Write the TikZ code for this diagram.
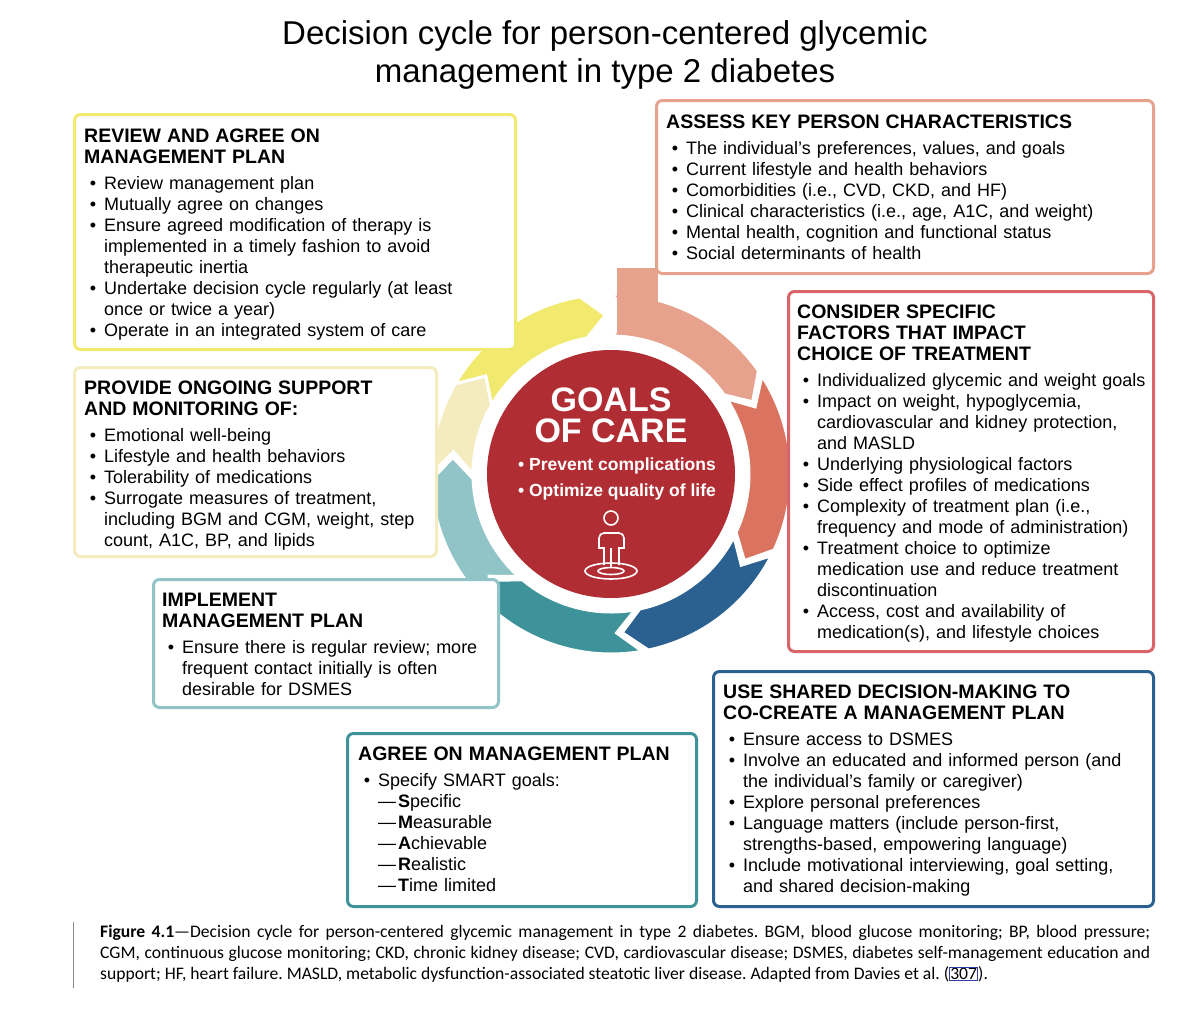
\documentclass[tikz,border=0pt]{standalone}
\usepackage{fontspec}
\setmainfont{Liberation Sans}
\newfontfamily\capfont{Carlito}
\usepackage{enumitem}
\setlist[itemize]{leftmargin=20pt,labelsep=8pt,itemsep=0pt,parsep=0pt,topsep=5pt,partopsep=0pt,label=\textbullet}
\definecolor{cyellow}{HTML}{F2E96F}
\definecolor{cpeach}{HTML}{E6A28C}
\definecolor{ccoral}{HTML}{DA7460}
\definecolor{cpink}{HTML}{D9656B}
\definecolor{cblue}{HTML}{2B6190}
\definecolor{cteal}{HTML}{3D9399}
\definecolor{clteal}{HTML}{90C4C7}
\definecolor{ccream}{HTML}{F4ECBE}
\definecolor{cred}{HTML}{B02E33}
\definecolor{refblue}{HTML}{2F3F9F}
\newcommand\hd{\fontsize{19.5}{20.5}\selectfont\bfseries}
\newcommand\sub{\makebox[20pt][l]{\textemdash}}
% one arrow of the ring: colour, tail angle, head angle
\newcommand\ringseg[3]{%
  \fill[#1,draw=white,line width=3pt] (#2:180) arc[start angle=#2,end angle=#3,radius=180]
    -- ({#3-8}:159) -- (#3:138) arc[start angle=#3,end angle=#2,radius=138] -- ({#2-8}:159) -- cycle;}
\tikzset{
  box/.style={draw=#1,line width=3pt,rounded corners=6pt,fill=white,anchor=north west,inner sep=0pt},
  txt/.style={anchor=north west,inner sep=0pt,align=left,font=\fontsize{18}{21}\selectfont},
}
\begin{document}
\begin{tikzpicture}[x=1pt,y=1pt,yscale=-1]
\useasboundingbox[fill=white] (0,0) rectangle (1200,1026);

% title
\node[font=\fontsize{33}{38}\selectfont,align=center] (title) at (605,55)
  {Decision cycle for person-centered glycemic\\management in type 2 diabetes};

% the ring
\begin{scope}[shift={(611,474)},yscale=-1]
  \ringseg{cyellow}{150}{100}
  \ringseg{cpeach}{90}{35}
  \fill[cpeach] (6,140) rectangle (47,206);
  \ringseg{ccoral}{33}{-25}
  \ringseg{cblue}{-27}{-78}
  \ringseg{cteal}{-80}{-130}
  \ringseg{clteal}{-132}{-178}
  \ringseg{ccream}{-180}{-210}
\end{scope}

% centre
\node[circle,fill=cred,minimum size=248pt,inner sep=0pt] (goals) at (611,474) {};
\node[font=\fontsize{34}{31}\selectfont\bfseries,text=white,align=center] (goalsT) at (611,415) {GOALS\\OF CARE};
\node[font=\fontsize{17.5}{26}\selectfont\bfseries,text=white,align=left] (goalsL) at (617,479)
  {\textbullet\ Prevent complications\\\textbullet\ Optimize quality of life};
\begin{scope}[white,line width=1.6pt]
  \draw (611,518) circle (7);
  \draw (604,565) -- (604,548) -- (599,548) -- (599,538) arc[start angle=180,end angle=270,radius=5] -- (619,533)
    arc[start angle=270,end angle=360,radius=5] -- (624,548) -- (619,548) -- (619,565);
  \draw (611,548) -- (611,568);
  \draw (611,571) ellipse (26 and 8);
  \draw (611,571) ellipse (13 and 3.5);
\end{scope}

% boxes
\node[box=cyellow,minimum width=441pt,minimum height=235pt] (review) at (73,113) {};
\node[box=cpeach,minimum width=497pt,minimum height=173pt] (assess) at (655,99) {};
\node[box=cpink,minimum width=365pt,minimum height=360pt] (consider) at (787,290) {};
\node[box=ccream,minimum width=362pt,minimum height=189pt] (provide) at (73,366) {};
\node[box=clteal,minimum width=345pt,minimum height=128pt] (implement) at (152,578) {};
\node[box=cteal,minimum width=349pt,minimum height=173pt] (agree) at (346,732) {};
\node[box=cblue,minimum width=440pt,minimum height=235pt] (shared) at (712,670) {};

% box texts
\node[txt,text width=425pt] (reviewT) at (84,129) {{\hd REVIEW AND AGREE ON\\MANAGEMENT PLAN}
\begin{itemize}
\item Review management plan
\item Mutually agree on changes
\item Ensure agreed modification of therapy is\\implemented in a timely fashion to avoid\\therapeutic inertia
\item Undertake decision cycle regularly (at least\\once or twice a year)
\item Operate in an integrated system of care
\end{itemize}};

\node[txt,text width=485pt] (assessT) at (666,115) {{\hd ASSESS KEY PERSON CHARACTERISTICS}
\begin{itemize}
\item The individual’s preferences, values, and goals
\item Current lifestyle and health behaviors
\item Comorbidities (i.e., CVD, CKD, and HF)
\item Clinical characteristics (i.e., age, A1C, and weight)
\item Mental health, cognition and functional status
\item Social determinants of health
\end{itemize}};

\node[txt,text width=355pt] (considerT) at (797,305) {{\hd CONSIDER SPECIFIC\\FACTORS THAT IMPACT\\CHOICE OF TREATMENT}
\begin{itemize}
\item Individualized glycemic and weight goals
\item Impact on weight, hypoglycemia,\\cardiovascular and kidney protection,\\and MASLD
\item Underlying physiological factors
\item Side effect profiles of medications
\item Complexity of treatment plan (i.e.,\\frequency and mode of administration)
\item Treatment choice to optimize\\medication use and reduce treatment\\discontinuation
\item Access, cost and availability of\\medication(s), and lifestyle choices
\end{itemize}};

\node[txt,text width=350pt] (provideT) at (84,381) {{\hd PROVIDE ONGOING SUPPORT\\AND MONITORING OF:}
\begin{itemize}
\item Emotional well-being
\item Lifestyle and health behaviors
\item Tolerability of medications
\item Surrogate measures of treatment,\\including BGM and CGM, weight, step\\count, A1C, BP, and lipids
\end{itemize}};

\node[txt,text width=335pt] (implementT) at (162,593) {{\hd IMPLEMENT\\MANAGEMENT PLAN}
\begin{itemize}
\item Ensure there is regular review; more\\frequent contact initially is often\\desirable for DSMES
\end{itemize}};

\node[txt,text width=340pt] (agreeT) at (358,747) {{\hd AGREE ON MANAGEMENT PLAN}
\begin{itemize}
\item Specify SMART goals:\\
\sub\textbf{S}pecific\\
\sub\textbf{M}easurable\\
\sub\textbf{A}chievable\\
\sub\textbf{R}ealistic\\
\sub\textbf{T}ime limited
\end{itemize}};

\node[txt,text width=430pt] (sharedT) at (723,685) {{\hd USE SHARED DECISION-MAKING TO\\CO-CREATE A MANAGEMENT PLAN}
\begin{itemize}
\item Ensure access to DSMES
\item Involve an educated and informed person (and\\the individual’s family or caregiver)
\item Explore personal preferences
\item Language matters (include person-first,\\strengths-based, empowering language)
\item Include motivational interviewing, goal setting,\\and shared decision-making
\end{itemize}};

% caption
\coordinate (capA) at (73,922);
\coordinate (capB) at (73,988);
\draw[black!45,line width=1pt] (capA) -- (capB);
\node[anchor=north west,inner sep=0pt,text width=1050pt,align=justify,
  font=\capfont\fontsize{17.6}{21}\selectfont\frenchspacing] (caption) at (100,925)
  {\textbf{Figure 4.1}—Decision cycle for person-centered glycemic management in type 2 diabetes. BGM, blood glucose monitoring; BP, blood pressure;\linebreak CGM, continuous glucose monitoring; CKD, chronic kidney disease; CVD, cardiovascular disease; DSMES, diabetes self-management education and\linebreak support; HF, heart failure. MASLD, metabolic dysfunction-associated steatotic liver disease. Adapted from Davies et al. ({\setlength\fboxsep{0.4pt}\setlength\fboxrule{0.7pt}\fcolorbox{refblue}{white}{307}}).};
\end{tikzpicture}
\end{document}
